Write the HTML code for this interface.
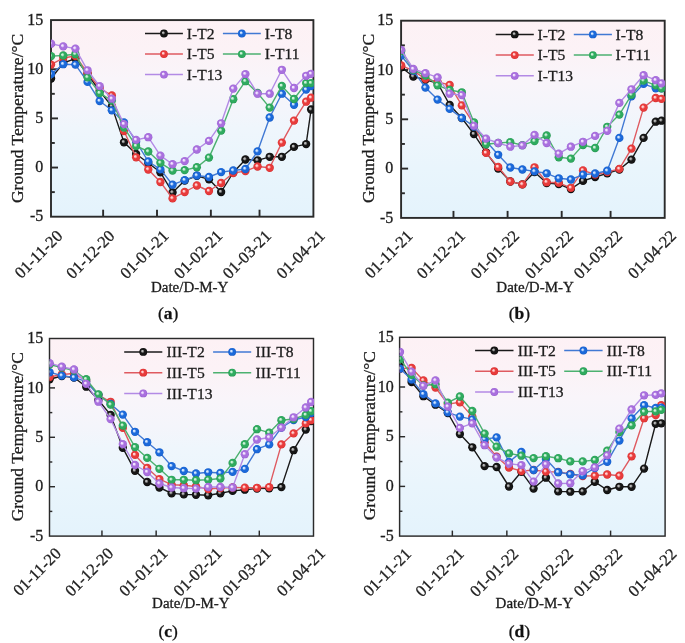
<!DOCTYPE html><html><head><meta charset="utf-8"><style>html,body{margin:0;padding:0;background:#fff;}svg{display:block;will-change:transform;}text{font-family:"Liberation Serif",serif;stroke:#1c1c1c;stroke-width:0.3px;paint-order:stroke;}</style></head><body>
<svg width="685" height="643" viewBox="0 0 685 643">
<defs>
<linearGradient id="bg" x1="0" y1="0" x2="0" y2="1"><stop offset="0" stop-color="#fdf1f5"/><stop offset="0.15" stop-color="#fcf2f6"/><stop offset="0.3" stop-color="#f9f5fa"/><stop offset="0.45" stop-color="#f4f5fb"/><stop offset="0.55" stop-color="#eff6fc"/><stop offset="0.75" stop-color="#e9f5fc"/><stop offset="1" stop-color="#e4f3fc"/></linearGradient>
<radialGradient id="mk" cx="0.5" cy="0.5" r="0.5" fx="0.36" fy="0.36"><stop offset="0" stop-color="#b8b8b8"/><stop offset="0.17" stop-color="#b8b8b8"/><stop offset="0.48" stop-color="#161616"/><stop offset="0.82" stop-color="#161616"/><stop offset="1" stop-color="#050505"/></radialGradient>
<radialGradient id="mr" cx="0.5" cy="0.5" r="0.5" fx="0.36" fy="0.36"><stop offset="0" stop-color="#ffd2d2"/><stop offset="0.17" stop-color="#ffd2d2"/><stop offset="0.48" stop-color="#e83b3b"/><stop offset="0.82" stop-color="#e83b3b"/><stop offset="1" stop-color="#d42a2a"/></radialGradient>
<radialGradient id="mb" cx="0.5" cy="0.5" r="0.5" fx="0.36" fy="0.36"><stop offset="0" stop-color="#d2e6ff"/><stop offset="0.17" stop-color="#d2e6ff"/><stop offset="0.48" stop-color="#1b69da"/><stop offset="0.82" stop-color="#1b69da"/><stop offset="1" stop-color="#1258c4"/></radialGradient>
<radialGradient id="mg" cx="0.5" cy="0.5" r="0.5" fx="0.36" fy="0.36"><stop offset="0" stop-color="#cdf2da"/><stop offset="0.17" stop-color="#cdf2da"/><stop offset="0.48" stop-color="#2fab5f"/><stop offset="0.82" stop-color="#2fab5f"/><stop offset="1" stop-color="#22944f"/></radialGradient>
<radialGradient id="mp" cx="0.5" cy="0.5" r="0.5" fx="0.36" fy="0.36"><stop offset="0" stop-color="#f2e4ff"/><stop offset="0.17" stop-color="#f2e4ff"/><stop offset="0.48" stop-color="#a970de"/><stop offset="0.82" stop-color="#a970de"/><stop offset="1" stop-color="#955bcf"/></radialGradient>
</defs>
<rect width="685" height="643" fill="#fff"/>
<rect x="51" y="20.1" width="262.4" height="196.6" fill="url(#bg)"/>
<clipPath id="cpa"><rect x="51" y="15.1" width="262.9" height="206.6"/></clipPath>
<rect x="51" y="20.1" width="262.4" height="196.6" fill="none" stroke="#2a2a2a" stroke-width="1.9"/>
<text x="43.3" y="19.3" font-size="16" fill="#1c1c1c" text-anchor="end" dominant-baseline="central">15</text>
<line x1="51" y1="44.67" x2="54.8" y2="44.67" stroke="#2a2a2a" stroke-width="1.9"/>
<line x1="51" y1="69.25" x2="58" y2="69.25" stroke="#2a2a2a" stroke-width="1.9"/>
<text x="43.3" y="68.45" font-size="16" fill="#1c1c1c" text-anchor="end" dominant-baseline="central">10</text>
<line x1="51" y1="93.82" x2="54.8" y2="93.82" stroke="#2a2a2a" stroke-width="1.9"/>
<line x1="51" y1="118.4" x2="58" y2="118.4" stroke="#2a2a2a" stroke-width="1.9"/>
<text x="43.3" y="117.6" font-size="16" fill="#1c1c1c" text-anchor="end" dominant-baseline="central">5</text>
<line x1="51" y1="142.97" x2="54.8" y2="142.97" stroke="#2a2a2a" stroke-width="1.9"/>
<line x1="51" y1="167.55" x2="58" y2="167.55" stroke="#2a2a2a" stroke-width="1.9"/>
<text x="43.3" y="166.75" font-size="16" fill="#1c1c1c" text-anchor="end" dominant-baseline="central">0</text>
<line x1="51" y1="192.12" x2="54.8" y2="192.12" stroke="#2a2a2a" stroke-width="1.9"/>
<text x="43.3" y="215.9" font-size="16" fill="#1c1c1c" text-anchor="end" dominant-baseline="central">-5</text>
<text x="0" y="0" transform="translate(63.5 236.9) rotate(-45)" font-size="16.5" fill="#1c1c1c" text-anchor="end">01-11-20</text>
<line x1="103.13" y1="216.7" x2="103.13" y2="209.7" stroke="#2a2a2a" stroke-width="1.9"/>
<text x="0" y="0" transform="translate(115.63 236.9) rotate(-45)" font-size="16.5" fill="#1c1c1c" text-anchor="end">01-12-20</text>
<line x1="157" y1="216.7" x2="157" y2="209.7" stroke="#2a2a2a" stroke-width="1.9"/>
<text x="0" y="0" transform="translate(169.5 236.9) rotate(-45)" font-size="16.5" fill="#1c1c1c" text-anchor="end">01-01-21</text>
<line x1="210.87" y1="216.7" x2="210.87" y2="209.7" stroke="#2a2a2a" stroke-width="1.9"/>
<text x="0" y="0" transform="translate(223.37 236.9) rotate(-45)" font-size="16.5" fill="#1c1c1c" text-anchor="end">01-02-21</text>
<line x1="259.53" y1="216.7" x2="259.53" y2="209.7" stroke="#2a2a2a" stroke-width="1.9"/>
<text x="0" y="0" transform="translate(272.03 236.9) rotate(-45)" font-size="16.5" fill="#1c1c1c" text-anchor="end">01-03-21</text>
<text x="0" y="0" transform="translate(325.9 236.9) rotate(-45)" font-size="16.5" fill="#1c1c1c" text-anchor="end">01-04-21</text>
<g clip-path="url(#cpa)">
<polyline points="51.1,78.5 63.25,63 75.39,58.6 87.53,74 99.68,91 111.82,106.4 123.97,142.3 136.12,154 148.26,163 160.41,172.3 172.55,192.5 184.69,180.6 196.84,175.8 208.98,179.3 221.13,192 233.27,172.5 245.42,159.5 257.56,160.3 269.71,156.8 281.86,156.8 294,146.9 306.14,144.1 311.1,109.5" fill="none" stroke="#1a1a1a" stroke-width="1.4" stroke-linejoin="round"/>
<circle cx="51.1" cy="78.5" r="4.15" fill="url(#mk)"/>
<circle cx="63.25" cy="63" r="4.15" fill="url(#mk)"/>
<circle cx="75.39" cy="58.6" r="4.15" fill="url(#mk)"/>
<circle cx="87.53" cy="74" r="4.15" fill="url(#mk)"/>
<circle cx="99.68" cy="91" r="4.15" fill="url(#mk)"/>
<circle cx="111.82" cy="106.4" r="4.15" fill="url(#mk)"/>
<circle cx="123.97" cy="142.3" r="4.15" fill="url(#mk)"/>
<circle cx="136.12" cy="154" r="4.15" fill="url(#mk)"/>
<circle cx="148.26" cy="163" r="4.15" fill="url(#mk)"/>
<circle cx="160.41" cy="172.3" r="4.15" fill="url(#mk)"/>
<circle cx="172.55" cy="192.5" r="4.15" fill="url(#mk)"/>
<circle cx="184.69" cy="180.6" r="4.15" fill="url(#mk)"/>
<circle cx="196.84" cy="175.8" r="4.15" fill="url(#mk)"/>
<circle cx="208.98" cy="179.3" r="4.15" fill="url(#mk)"/>
<circle cx="221.13" cy="192" r="4.15" fill="url(#mk)"/>
<circle cx="233.27" cy="172.5" r="4.15" fill="url(#mk)"/>
<circle cx="245.42" cy="159.5" r="4.15" fill="url(#mk)"/>
<circle cx="257.56" cy="160.3" r="4.15" fill="url(#mk)"/>
<circle cx="269.71" cy="156.8" r="4.15" fill="url(#mk)"/>
<circle cx="281.86" cy="156.8" r="4.15" fill="url(#mk)"/>
<circle cx="294" cy="146.9" r="4.15" fill="url(#mk)"/>
<circle cx="306.14" cy="144.1" r="4.15" fill="url(#mk)"/>
<circle cx="311.1" cy="109.5" r="4.15" fill="url(#mk)"/>
<polyline points="51.1,64.6 63.25,58 75.39,56 87.53,73 99.68,88 111.82,95.5 123.97,131 136.12,157.3 148.26,169.5 160.41,182 172.55,198.4 184.69,192 196.84,185.5 208.98,191 221.13,183 233.27,173 245.42,171.1 257.56,166.5 269.71,167.8 281.86,142.6 294,120.6 306.14,101.7 311.1,97.7" fill="none" stroke="#df5a60" stroke-width="1.4" stroke-linejoin="round"/>
<circle cx="51.1" cy="64.6" r="4.15" fill="url(#mr)"/>
<circle cx="63.25" cy="58" r="4.15" fill="url(#mr)"/>
<circle cx="75.39" cy="56" r="4.15" fill="url(#mr)"/>
<circle cx="87.53" cy="73" r="4.15" fill="url(#mr)"/>
<circle cx="99.68" cy="88" r="4.15" fill="url(#mr)"/>
<circle cx="111.82" cy="95.5" r="4.15" fill="url(#mr)"/>
<circle cx="123.97" cy="131" r="4.15" fill="url(#mr)"/>
<circle cx="136.12" cy="157.3" r="4.15" fill="url(#mr)"/>
<circle cx="148.26" cy="169.5" r="4.15" fill="url(#mr)"/>
<circle cx="160.41" cy="182" r="4.15" fill="url(#mr)"/>
<circle cx="172.55" cy="198.4" r="4.15" fill="url(#mr)"/>
<circle cx="184.69" cy="192" r="4.15" fill="url(#mr)"/>
<circle cx="196.84" cy="185.5" r="4.15" fill="url(#mr)"/>
<circle cx="208.98" cy="191" r="4.15" fill="url(#mr)"/>
<circle cx="221.13" cy="183" r="4.15" fill="url(#mr)"/>
<circle cx="233.27" cy="173" r="4.15" fill="url(#mr)"/>
<circle cx="245.42" cy="171.1" r="4.15" fill="url(#mr)"/>
<circle cx="257.56" cy="166.5" r="4.15" fill="url(#mr)"/>
<circle cx="269.71" cy="167.8" r="4.15" fill="url(#mr)"/>
<circle cx="281.86" cy="142.6" r="4.15" fill="url(#mr)"/>
<circle cx="294" cy="120.6" r="4.15" fill="url(#mr)"/>
<circle cx="306.14" cy="101.7" r="4.15" fill="url(#mr)"/>
<circle cx="311.1" cy="97.7" r="4.15" fill="url(#mr)"/>
<polyline points="51.1,74.1 63.25,64.2 75.39,64.6 87.53,81.9 99.68,101 111.82,110.3 123.97,122.5 136.12,141.7 148.26,161.5 160.41,169.4 172.55,184.7 184.69,180.1 196.84,175.5 208.98,177 221.13,172.1 233.27,170.5 245.42,169 257.56,151.4 269.71,117.5 281.86,93.7 294,104.8 306.14,89.6 311.1,86.1" fill="none" stroke="#4079d4" stroke-width="1.4" stroke-linejoin="round"/>
<circle cx="51.1" cy="74.1" r="4.15" fill="url(#mb)"/>
<circle cx="63.25" cy="64.2" r="4.15" fill="url(#mb)"/>
<circle cx="75.39" cy="64.6" r="4.15" fill="url(#mb)"/>
<circle cx="87.53" cy="81.9" r="4.15" fill="url(#mb)"/>
<circle cx="99.68" cy="101" r="4.15" fill="url(#mb)"/>
<circle cx="111.82" cy="110.3" r="4.15" fill="url(#mb)"/>
<circle cx="123.97" cy="122.5" r="4.15" fill="url(#mb)"/>
<circle cx="136.12" cy="141.7" r="4.15" fill="url(#mb)"/>
<circle cx="148.26" cy="161.5" r="4.15" fill="url(#mb)"/>
<circle cx="160.41" cy="169.4" r="4.15" fill="url(#mb)"/>
<circle cx="172.55" cy="184.7" r="4.15" fill="url(#mb)"/>
<circle cx="184.69" cy="180.1" r="4.15" fill="url(#mb)"/>
<circle cx="196.84" cy="175.5" r="4.15" fill="url(#mb)"/>
<circle cx="208.98" cy="177" r="4.15" fill="url(#mb)"/>
<circle cx="221.13" cy="172.1" r="4.15" fill="url(#mb)"/>
<circle cx="233.27" cy="170.5" r="4.15" fill="url(#mb)"/>
<circle cx="245.42" cy="169" r="4.15" fill="url(#mb)"/>
<circle cx="257.56" cy="151.4" r="4.15" fill="url(#mb)"/>
<circle cx="269.71" cy="117.5" r="4.15" fill="url(#mb)"/>
<circle cx="281.86" cy="93.7" r="4.15" fill="url(#mb)"/>
<circle cx="294" cy="104.8" r="4.15" fill="url(#mb)"/>
<circle cx="306.14" cy="89.6" r="4.15" fill="url(#mb)"/>
<circle cx="311.1" cy="86.1" r="4.15" fill="url(#mb)"/>
<polyline points="51.1,56.1 63.25,55.5 75.39,54.2 87.53,77.3 99.68,93.1 111.82,100.5 123.97,127.6 136.12,146 148.26,151.5 160.41,162.8 172.55,170.6 184.69,170.1 196.84,167.2 208.98,157.6 221.13,130.6 233.27,99.2 245.42,81.2 257.56,93 269.71,107.6 281.86,85.9 294,99 306.14,83.1 311.1,83.1" fill="none" stroke="#4cb170" stroke-width="1.4" stroke-linejoin="round"/>
<circle cx="51.1" cy="56.1" r="4.15" fill="url(#mg)"/>
<circle cx="63.25" cy="55.5" r="4.15" fill="url(#mg)"/>
<circle cx="75.39" cy="54.2" r="4.15" fill="url(#mg)"/>
<circle cx="87.53" cy="77.3" r="4.15" fill="url(#mg)"/>
<circle cx="99.68" cy="93.1" r="4.15" fill="url(#mg)"/>
<circle cx="111.82" cy="100.5" r="4.15" fill="url(#mg)"/>
<circle cx="123.97" cy="127.6" r="4.15" fill="url(#mg)"/>
<circle cx="136.12" cy="146" r="4.15" fill="url(#mg)"/>
<circle cx="148.26" cy="151.5" r="4.15" fill="url(#mg)"/>
<circle cx="160.41" cy="162.8" r="4.15" fill="url(#mg)"/>
<circle cx="172.55" cy="170.6" r="4.15" fill="url(#mg)"/>
<circle cx="184.69" cy="170.1" r="4.15" fill="url(#mg)"/>
<circle cx="196.84" cy="167.2" r="4.15" fill="url(#mg)"/>
<circle cx="208.98" cy="157.6" r="4.15" fill="url(#mg)"/>
<circle cx="221.13" cy="130.6" r="4.15" fill="url(#mg)"/>
<circle cx="233.27" cy="99.2" r="4.15" fill="url(#mg)"/>
<circle cx="245.42" cy="81.2" r="4.15" fill="url(#mg)"/>
<circle cx="257.56" cy="93" r="4.15" fill="url(#mg)"/>
<circle cx="269.71" cy="107.6" r="4.15" fill="url(#mg)"/>
<circle cx="281.86" cy="85.9" r="4.15" fill="url(#mg)"/>
<circle cx="294" cy="99" r="4.15" fill="url(#mg)"/>
<circle cx="306.14" cy="83.1" r="4.15" fill="url(#mg)"/>
<circle cx="311.1" cy="83.1" r="4.15" fill="url(#mg)"/>
<polyline points="51.1,43.7 63.25,46.4 75.39,48.6 87.53,70.3 99.68,86.1 111.82,98.7 123.97,124.1 136.12,139.9 148.26,137.2 160.41,155.6 172.55,164.2 184.69,161.1 196.84,149.5 208.98,140.9 221.13,123.3 233.27,88.6 245.42,74.1 257.56,93.7 269.71,93.7 281.86,69.8 294,88 306.14,75.8 311.1,73.8" fill="none" stroke="#b38ae5" stroke-width="1.4" stroke-linejoin="round"/>
<circle cx="51.1" cy="43.7" r="4.15" fill="url(#mp)"/>
<circle cx="63.25" cy="46.4" r="4.15" fill="url(#mp)"/>
<circle cx="75.39" cy="48.6" r="4.15" fill="url(#mp)"/>
<circle cx="87.53" cy="70.3" r="4.15" fill="url(#mp)"/>
<circle cx="99.68" cy="86.1" r="4.15" fill="url(#mp)"/>
<circle cx="111.82" cy="98.7" r="4.15" fill="url(#mp)"/>
<circle cx="123.97" cy="124.1" r="4.15" fill="url(#mp)"/>
<circle cx="136.12" cy="139.9" r="4.15" fill="url(#mp)"/>
<circle cx="148.26" cy="137.2" r="4.15" fill="url(#mp)"/>
<circle cx="160.41" cy="155.6" r="4.15" fill="url(#mp)"/>
<circle cx="172.55" cy="164.2" r="4.15" fill="url(#mp)"/>
<circle cx="184.69" cy="161.1" r="4.15" fill="url(#mp)"/>
<circle cx="196.84" cy="149.5" r="4.15" fill="url(#mp)"/>
<circle cx="208.98" cy="140.9" r="4.15" fill="url(#mp)"/>
<circle cx="221.13" cy="123.3" r="4.15" fill="url(#mp)"/>
<circle cx="233.27" cy="88.6" r="4.15" fill="url(#mp)"/>
<circle cx="245.42" cy="74.1" r="4.15" fill="url(#mp)"/>
<circle cx="257.56" cy="93.7" r="4.15" fill="url(#mp)"/>
<circle cx="269.71" cy="93.7" r="4.15" fill="url(#mp)"/>
<circle cx="281.86" cy="69.8" r="4.15" fill="url(#mp)"/>
<circle cx="294" cy="88" r="4.15" fill="url(#mp)"/>
<circle cx="306.14" cy="75.8" r="4.15" fill="url(#mp)"/>
<circle cx="311.1" cy="73.8" r="4.15" fill="url(#mp)"/>
</g>
<line x1="145" y1="33.5" x2="182.9" y2="33.5" stroke="#1a1a1a" stroke-width="1.5"/>
<circle cx="163.95" cy="33.5" r="3.9" fill="url(#mk)"/>
<text x="186.8" y="33.2" font-size="15.6" fill="#1c1c1c" dominant-baseline="central">I-T2</text>
<line x1="222.9" y1="33.5" x2="260.8" y2="33.5" stroke="#4079d4" stroke-width="1.5"/>
<circle cx="241.85" cy="33.5" r="3.9" fill="url(#mb)"/>
<text x="264.7" y="33.2" font-size="15.6" fill="#1c1c1c" dominant-baseline="central">I-T8</text>
<line x1="145" y1="54.05" x2="182.9" y2="54.05" stroke="#df5a60" stroke-width="1.5"/>
<circle cx="163.95" cy="54.05" r="3.9" fill="url(#mr)"/>
<text x="186.8" y="53.75" font-size="15.6" fill="#1c1c1c" dominant-baseline="central">I-T5</text>
<line x1="222.9" y1="54.05" x2="260.8" y2="54.05" stroke="#4cb170" stroke-width="1.5"/>
<circle cx="241.85" cy="54.05" r="3.9" fill="url(#mg)"/>
<text x="264.7" y="53.75" font-size="15.6" fill="#1c1c1c" dominant-baseline="central">I-T11</text>
<line x1="145" y1="74.6" x2="182.9" y2="74.6" stroke="#b38ae5" stroke-width="1.5"/>
<circle cx="163.95" cy="74.6" r="3.9" fill="url(#mp)"/>
<text x="186.8" y="74.3" font-size="15.6" fill="#1c1c1c" dominant-baseline="central">I-T13</text>
<text x="0" y="0" transform="translate(22.8 118.45) rotate(-90)" font-size="17.5" fill="#1c1c1c" text-anchor="middle">Ground Temperature/°C</text>
<text x="189.65" y="291.7" font-size="15" fill="#1c1c1c" text-anchor="middle">Date/D-M-Y</text>
<text x="168.1" y="319.3" font-size="17.5" fill="#111" text-anchor="middle">(<tspan font-weight="bold">a</tspan>)</text>
<rect x="401.1" y="20.7" width="263.6" height="197.2" fill="url(#bg)"/>
<clipPath id="cpb"><rect x="401.1" y="15.7" width="264.1" height="207.2"/></clipPath>
<rect x="401.1" y="20.7" width="263.6" height="197.2" fill="none" stroke="#2a2a2a" stroke-width="1.9"/>
<text x="393.3" y="19.9" font-size="16" fill="#1c1c1c" text-anchor="end" dominant-baseline="central">15</text>
<line x1="401.1" y1="45.35" x2="404.9" y2="45.35" stroke="#2a2a2a" stroke-width="1.9"/>
<line x1="401.1" y1="70" x2="408.1" y2="70" stroke="#2a2a2a" stroke-width="1.9"/>
<text x="393.3" y="69.2" font-size="16" fill="#1c1c1c" text-anchor="end" dominant-baseline="central">10</text>
<line x1="401.1" y1="94.65" x2="404.9" y2="94.65" stroke="#2a2a2a" stroke-width="1.9"/>
<line x1="401.1" y1="119.3" x2="408.1" y2="119.3" stroke="#2a2a2a" stroke-width="1.9"/>
<text x="393.3" y="118.5" font-size="16" fill="#1c1c1c" text-anchor="end" dominant-baseline="central">5</text>
<line x1="401.1" y1="143.95" x2="404.9" y2="143.95" stroke="#2a2a2a" stroke-width="1.9"/>
<line x1="401.1" y1="168.6" x2="408.1" y2="168.6" stroke="#2a2a2a" stroke-width="1.9"/>
<text x="393.3" y="167.8" font-size="16" fill="#1c1c1c" text-anchor="end" dominant-baseline="central">0</text>
<line x1="401.1" y1="193.25" x2="404.9" y2="193.25" stroke="#2a2a2a" stroke-width="1.9"/>
<text x="393.3" y="217.1" font-size="16" fill="#1c1c1c" text-anchor="end" dominant-baseline="central">-5</text>
<text x="0" y="0" transform="translate(413.6 236.9) rotate(-45)" font-size="16.5" fill="#1c1c1c" text-anchor="end">01-11-21</text>
<line x1="453.47" y1="217.9" x2="453.47" y2="210.9" stroke="#2a2a2a" stroke-width="1.9"/>
<text x="0" y="0" transform="translate(465.97 236.9) rotate(-45)" font-size="16.5" fill="#1c1c1c" text-anchor="end">01-12-21</text>
<line x1="507.59" y1="217.9" x2="507.59" y2="210.9" stroke="#2a2a2a" stroke-width="1.9"/>
<text x="0" y="0" transform="translate(520.09 236.9) rotate(-45)" font-size="16.5" fill="#1c1c1c" text-anchor="end">01-01-22</text>
<line x1="561.7" y1="217.9" x2="561.7" y2="210.9" stroke="#2a2a2a" stroke-width="1.9"/>
<text x="0" y="0" transform="translate(574.2 236.9) rotate(-45)" font-size="16.5" fill="#1c1c1c" text-anchor="end">01-02-22</text>
<line x1="610.58" y1="217.9" x2="610.58" y2="210.9" stroke="#2a2a2a" stroke-width="1.9"/>
<text x="0" y="0" transform="translate(623.08 236.9) rotate(-45)" font-size="16.5" fill="#1c1c1c" text-anchor="end">01-03-22</text>
<text x="0" y="0" transform="translate(677.2 236.9) rotate(-45)" font-size="16.5" fill="#1c1c1c" text-anchor="end">01-04-22</text>
<g clip-path="url(#cpb)">
<polyline points="401.2,67.3 413.32,76.5 425.44,79.7 437.56,83 449.68,104.9 461.8,118 473.92,134.1 486.04,152.3 498.16,168.5 510.28,181.5 522.4,184.4 534.52,172 546.64,183 558.76,184.1 570.88,189 583,180.9 595.12,177 607.24,173.3 619.36,169.5 631.48,159.6 643.6,137.9 655.72,121.7 661.5,120.7" fill="none" stroke="#1a1a1a" stroke-width="1.4" stroke-linejoin="round"/>
<circle cx="401.2" cy="67.3" r="4.15" fill="url(#mk)"/>
<circle cx="413.32" cy="76.5" r="4.15" fill="url(#mk)"/>
<circle cx="425.44" cy="79.7" r="4.15" fill="url(#mk)"/>
<circle cx="437.56" cy="83" r="4.15" fill="url(#mk)"/>
<circle cx="449.68" cy="104.9" r="4.15" fill="url(#mk)"/>
<circle cx="461.8" cy="118" r="4.15" fill="url(#mk)"/>
<circle cx="473.92" cy="134.1" r="4.15" fill="url(#mk)"/>
<circle cx="486.04" cy="152.3" r="4.15" fill="url(#mk)"/>
<circle cx="498.16" cy="168.5" r="4.15" fill="url(#mk)"/>
<circle cx="510.28" cy="181.5" r="4.15" fill="url(#mk)"/>
<circle cx="522.4" cy="184.4" r="4.15" fill="url(#mk)"/>
<circle cx="534.52" cy="172" r="4.15" fill="url(#mk)"/>
<circle cx="546.64" cy="183" r="4.15" fill="url(#mk)"/>
<circle cx="558.76" cy="184.1" r="4.15" fill="url(#mk)"/>
<circle cx="570.88" cy="189" r="4.15" fill="url(#mk)"/>
<circle cx="583" cy="180.9" r="4.15" fill="url(#mk)"/>
<circle cx="595.12" cy="177" r="4.15" fill="url(#mk)"/>
<circle cx="607.24" cy="173.3" r="4.15" fill="url(#mk)"/>
<circle cx="619.36" cy="169.5" r="4.15" fill="url(#mk)"/>
<circle cx="631.48" cy="159.6" r="4.15" fill="url(#mk)"/>
<circle cx="643.6" cy="137.9" r="4.15" fill="url(#mk)"/>
<circle cx="655.72" cy="121.7" r="4.15" fill="url(#mk)"/>
<circle cx="661.5" cy="120.7" r="4.15" fill="url(#mk)"/>
<polyline points="401.2,65.4 413.32,70.9 425.44,78.8 437.56,82 449.68,84.9 461.8,105.4 473.92,124 486.04,152.9 498.16,167 510.28,181.5 522.4,184.4 534.52,167.3 546.64,182.2 558.76,182.8 570.88,187.8 583,170.4 595.12,174.5 607.24,172 619.36,168.9 631.48,148.6 643.6,107.6 655.72,98 661.5,98.9" fill="none" stroke="#df5a60" stroke-width="1.4" stroke-linejoin="round"/>
<circle cx="401.2" cy="65.4" r="4.15" fill="url(#mr)"/>
<circle cx="413.32" cy="70.9" r="4.15" fill="url(#mr)"/>
<circle cx="425.44" cy="78.8" r="4.15" fill="url(#mr)"/>
<circle cx="437.56" cy="82" r="4.15" fill="url(#mr)"/>
<circle cx="449.68" cy="84.9" r="4.15" fill="url(#mr)"/>
<circle cx="461.8" cy="105.4" r="4.15" fill="url(#mr)"/>
<circle cx="473.92" cy="124" r="4.15" fill="url(#mr)"/>
<circle cx="486.04" cy="152.9" r="4.15" fill="url(#mr)"/>
<circle cx="498.16" cy="167" r="4.15" fill="url(#mr)"/>
<circle cx="510.28" cy="181.5" r="4.15" fill="url(#mr)"/>
<circle cx="522.4" cy="184.4" r="4.15" fill="url(#mr)"/>
<circle cx="534.52" cy="167.3" r="4.15" fill="url(#mr)"/>
<circle cx="546.64" cy="182.2" r="4.15" fill="url(#mr)"/>
<circle cx="558.76" cy="182.8" r="4.15" fill="url(#mr)"/>
<circle cx="570.88" cy="187.8" r="4.15" fill="url(#mr)"/>
<circle cx="583" cy="170.4" r="4.15" fill="url(#mr)"/>
<circle cx="595.12" cy="174.5" r="4.15" fill="url(#mr)"/>
<circle cx="607.24" cy="172" r="4.15" fill="url(#mr)"/>
<circle cx="619.36" cy="168.9" r="4.15" fill="url(#mr)"/>
<circle cx="631.48" cy="148.6" r="4.15" fill="url(#mr)"/>
<circle cx="643.6" cy="107.6" r="4.15" fill="url(#mr)"/>
<circle cx="655.72" cy="98" r="4.15" fill="url(#mr)"/>
<circle cx="661.5" cy="98.9" r="4.15" fill="url(#mr)"/>
<polyline points="401.2,55.5 413.32,70.9 425.44,87.6 437.56,99.6 449.68,108.9 461.8,117.9 473.92,126.5 486.04,141 498.16,154.8 510.28,167.5 522.4,169.5 534.52,171.4 546.64,173.3 558.76,178.3 570.88,179.5 583,174.7 595.12,173.5 607.24,170.7 619.36,137.9 631.48,96.4 643.6,83.9 655.72,88.3 661.5,88.3" fill="none" stroke="#4079d4" stroke-width="1.4" stroke-linejoin="round"/>
<circle cx="401.2" cy="55.5" r="4.15" fill="url(#mb)"/>
<circle cx="413.32" cy="70.9" r="4.15" fill="url(#mb)"/>
<circle cx="425.44" cy="87.6" r="4.15" fill="url(#mb)"/>
<circle cx="437.56" cy="99.6" r="4.15" fill="url(#mb)"/>
<circle cx="449.68" cy="108.9" r="4.15" fill="url(#mb)"/>
<circle cx="461.8" cy="117.9" r="4.15" fill="url(#mb)"/>
<circle cx="473.92" cy="126.5" r="4.15" fill="url(#mb)"/>
<circle cx="486.04" cy="141" r="4.15" fill="url(#mb)"/>
<circle cx="498.16" cy="154.8" r="4.15" fill="url(#mb)"/>
<circle cx="510.28" cy="167.5" r="4.15" fill="url(#mb)"/>
<circle cx="522.4" cy="169.5" r="4.15" fill="url(#mb)"/>
<circle cx="534.52" cy="171.4" r="4.15" fill="url(#mb)"/>
<circle cx="546.64" cy="173.3" r="4.15" fill="url(#mb)"/>
<circle cx="558.76" cy="178.3" r="4.15" fill="url(#mb)"/>
<circle cx="570.88" cy="179.5" r="4.15" fill="url(#mb)"/>
<circle cx="583" cy="174.7" r="4.15" fill="url(#mb)"/>
<circle cx="595.12" cy="173.5" r="4.15" fill="url(#mb)"/>
<circle cx="607.24" cy="170.7" r="4.15" fill="url(#mb)"/>
<circle cx="619.36" cy="137.9" r="4.15" fill="url(#mb)"/>
<circle cx="631.48" cy="96.4" r="4.15" fill="url(#mb)"/>
<circle cx="643.6" cy="83.9" r="4.15" fill="url(#mb)"/>
<circle cx="655.72" cy="88.3" r="4.15" fill="url(#mb)"/>
<circle cx="661.5" cy="88.3" r="4.15" fill="url(#mb)"/>
<polyline points="401.2,51 413.32,70 425.44,75.5 437.56,85.3 449.68,90 461.8,92.3 473.92,122.3 486.04,144.2 498.16,143 510.28,142.1 522.4,145.2 534.52,141.1 546.64,135.5 558.76,157.3 570.88,158.6 583,145 595.12,148 607.24,126.8 619.36,114.6 631.48,94.8 643.6,80.6 655.72,85.3 661.5,88.3" fill="none" stroke="#4cb170" stroke-width="1.4" stroke-linejoin="round"/>
<circle cx="401.2" cy="51" r="4.15" fill="url(#mg)"/>
<circle cx="413.32" cy="70" r="4.15" fill="url(#mg)"/>
<circle cx="425.44" cy="75.5" r="4.15" fill="url(#mg)"/>
<circle cx="437.56" cy="85.3" r="4.15" fill="url(#mg)"/>
<circle cx="449.68" cy="90" r="4.15" fill="url(#mg)"/>
<circle cx="461.8" cy="92.3" r="4.15" fill="url(#mg)"/>
<circle cx="473.92" cy="122.3" r="4.15" fill="url(#mg)"/>
<circle cx="486.04" cy="144.2" r="4.15" fill="url(#mg)"/>
<circle cx="498.16" cy="143" r="4.15" fill="url(#mg)"/>
<circle cx="510.28" cy="142.1" r="4.15" fill="url(#mg)"/>
<circle cx="522.4" cy="145.2" r="4.15" fill="url(#mg)"/>
<circle cx="534.52" cy="141.1" r="4.15" fill="url(#mg)"/>
<circle cx="546.64" cy="135.5" r="4.15" fill="url(#mg)"/>
<circle cx="558.76" cy="157.3" r="4.15" fill="url(#mg)"/>
<circle cx="570.88" cy="158.6" r="4.15" fill="url(#mg)"/>
<circle cx="583" cy="145" r="4.15" fill="url(#mg)"/>
<circle cx="595.12" cy="148" r="4.15" fill="url(#mg)"/>
<circle cx="607.24" cy="126.8" r="4.15" fill="url(#mg)"/>
<circle cx="619.36" cy="114.6" r="4.15" fill="url(#mg)"/>
<circle cx="631.48" cy="94.8" r="4.15" fill="url(#mg)"/>
<circle cx="643.6" cy="80.6" r="4.15" fill="url(#mg)"/>
<circle cx="655.72" cy="85.3" r="4.15" fill="url(#mg)"/>
<circle cx="661.5" cy="88.3" r="4.15" fill="url(#mg)"/>
<polyline points="401.2,49.9 413.32,69 425.44,73.2 437.56,77.4 449.68,93.7 461.8,95.1 473.92,125.8 486.04,138.6 498.16,143 510.28,146.7 522.4,145.4 534.52,134.9 546.64,143 558.76,153.6 570.88,146.7 583,141.8 595.12,135.9 607.24,130.8 619.36,102.9 631.48,89.3 643.6,75.2 655.72,80.2 661.5,83.3" fill="none" stroke="#b38ae5" stroke-width="1.4" stroke-linejoin="round"/>
<circle cx="401.2" cy="49.9" r="4.15" fill="url(#mp)"/>
<circle cx="413.32" cy="69" r="4.15" fill="url(#mp)"/>
<circle cx="425.44" cy="73.2" r="4.15" fill="url(#mp)"/>
<circle cx="437.56" cy="77.4" r="4.15" fill="url(#mp)"/>
<circle cx="449.68" cy="93.7" r="4.15" fill="url(#mp)"/>
<circle cx="461.8" cy="95.1" r="4.15" fill="url(#mp)"/>
<circle cx="473.92" cy="125.8" r="4.15" fill="url(#mp)"/>
<circle cx="486.04" cy="138.6" r="4.15" fill="url(#mp)"/>
<circle cx="498.16" cy="143" r="4.15" fill="url(#mp)"/>
<circle cx="510.28" cy="146.7" r="4.15" fill="url(#mp)"/>
<circle cx="522.4" cy="145.4" r="4.15" fill="url(#mp)"/>
<circle cx="534.52" cy="134.9" r="4.15" fill="url(#mp)"/>
<circle cx="546.64" cy="143" r="4.15" fill="url(#mp)"/>
<circle cx="558.76" cy="153.6" r="4.15" fill="url(#mp)"/>
<circle cx="570.88" cy="146.7" r="4.15" fill="url(#mp)"/>
<circle cx="583" cy="141.8" r="4.15" fill="url(#mp)"/>
<circle cx="595.12" cy="135.9" r="4.15" fill="url(#mp)"/>
<circle cx="607.24" cy="130.8" r="4.15" fill="url(#mp)"/>
<circle cx="619.36" cy="102.9" r="4.15" fill="url(#mp)"/>
<circle cx="631.48" cy="89.3" r="4.15" fill="url(#mp)"/>
<circle cx="643.6" cy="75.2" r="4.15" fill="url(#mp)"/>
<circle cx="655.72" cy="80.2" r="4.15" fill="url(#mp)"/>
<circle cx="661.5" cy="83.3" r="4.15" fill="url(#mp)"/>
</g>
<line x1="495.7" y1="34.4" x2="533.8" y2="34.4" stroke="#1a1a1a" stroke-width="1.5"/>
<circle cx="514.75" cy="34.4" r="3.9" fill="url(#mk)"/>
<text x="537.5" y="34.1" font-size="15.6" fill="#1c1c1c" dominant-baseline="central">I-T2</text>
<line x1="573.8" y1="34.4" x2="611.9" y2="34.4" stroke="#4079d4" stroke-width="1.5"/>
<circle cx="592.85" cy="34.4" r="3.9" fill="url(#mb)"/>
<text x="615.6" y="34.1" font-size="15.6" fill="#1c1c1c" dominant-baseline="central">I-T8</text>
<line x1="495.7" y1="55.1" x2="533.8" y2="55.1" stroke="#df5a60" stroke-width="1.5"/>
<circle cx="514.75" cy="55.1" r="3.9" fill="url(#mr)"/>
<text x="537.5" y="54.8" font-size="15.6" fill="#1c1c1c" dominant-baseline="central">I-T5</text>
<line x1="573.8" y1="55.1" x2="611.9" y2="55.1" stroke="#4cb170" stroke-width="1.5"/>
<circle cx="592.85" cy="55.1" r="3.9" fill="url(#mg)"/>
<text x="615.6" y="54.8" font-size="15.6" fill="#1c1c1c" dominant-baseline="central">I-T11</text>
<line x1="495.7" y1="75.8" x2="533.8" y2="75.8" stroke="#b38ae5" stroke-width="1.5"/>
<circle cx="514.75" cy="75.8" r="3.9" fill="url(#mp)"/>
<text x="537.5" y="75.5" font-size="15.6" fill="#1c1c1c" dominant-baseline="central">I-T13</text>
<text x="0" y="0" transform="translate(373.8 118.45) rotate(-90)" font-size="17.5" fill="#1c1c1c" text-anchor="middle">Ground Temperature/°C</text>
<text x="535.1" y="291.7" font-size="15" fill="#1c1c1c" text-anchor="middle">Date/D-M-Y</text>
<text x="519.4" y="319.3" font-size="17.5" fill="#111" text-anchor="middle">(<tspan font-weight="bold">b</tspan>)</text>
<rect x="49.5" y="338.5" width="264" height="197.6" fill="url(#bg)"/>
<clipPath id="cpc"><rect x="49.5" y="333.5" width="264.5" height="207.6"/></clipPath>
<rect x="49.5" y="338.5" width="264" height="197.6" fill="none" stroke="#2a2a2a" stroke-width="1.45"/>
<text x="43.3" y="337.7" font-size="16" fill="#1c1c1c" text-anchor="end" dominant-baseline="central">15</text>
<line x1="49.5" y1="363.2" x2="52.3" y2="363.2" stroke="#2a2a2a" stroke-width="1.45"/>
<line x1="49.5" y1="387.9" x2="55" y2="387.9" stroke="#2a2a2a" stroke-width="1.45"/>
<text x="43.3" y="387.1" font-size="16" fill="#1c1c1c" text-anchor="end" dominant-baseline="central">10</text>
<line x1="49.5" y1="412.6" x2="52.3" y2="412.6" stroke="#2a2a2a" stroke-width="1.45"/>
<line x1="49.5" y1="437.3" x2="55" y2="437.3" stroke="#2a2a2a" stroke-width="1.45"/>
<text x="43.3" y="436.5" font-size="16" fill="#1c1c1c" text-anchor="end" dominant-baseline="central">5</text>
<line x1="49.5" y1="462" x2="52.3" y2="462" stroke="#2a2a2a" stroke-width="1.45"/>
<line x1="49.5" y1="486.7" x2="55" y2="486.7" stroke="#2a2a2a" stroke-width="1.45"/>
<text x="43.3" y="485.9" font-size="16" fill="#1c1c1c" text-anchor="end" dominant-baseline="central">0</text>
<line x1="49.5" y1="511.4" x2="52.3" y2="511.4" stroke="#2a2a2a" stroke-width="1.45"/>
<text x="43.3" y="535.3" font-size="16" fill="#1c1c1c" text-anchor="end" dominant-baseline="central">-5</text>
<text x="0" y="0" transform="translate(62 554.5) rotate(-45)" font-size="16.5" fill="#1c1c1c" text-anchor="end">01-11-20</text>
<line x1="101.95" y1="536.1" x2="101.95" y2="530.6" stroke="#2a2a2a" stroke-width="1.45"/>
<text x="0" y="0" transform="translate(114.45 554.5) rotate(-45)" font-size="16.5" fill="#1c1c1c" text-anchor="end">01-12-20</text>
<line x1="156.15" y1="536.1" x2="156.15" y2="530.6" stroke="#2a2a2a" stroke-width="1.45"/>
<text x="0" y="0" transform="translate(168.65 554.5) rotate(-45)" font-size="16.5" fill="#1c1c1c" text-anchor="end">01-01-21</text>
<line x1="210.35" y1="536.1" x2="210.35" y2="530.6" stroke="#2a2a2a" stroke-width="1.45"/>
<text x="0" y="0" transform="translate(222.85 554.5) rotate(-45)" font-size="16.5" fill="#1c1c1c" text-anchor="end">01-02-21</text>
<line x1="259.3" y1="536.1" x2="259.3" y2="530.6" stroke="#2a2a2a" stroke-width="1.45"/>
<text x="0" y="0" transform="translate(271.8 554.5) rotate(-45)" font-size="16.5" fill="#1c1c1c" text-anchor="end">01-03-21</text>
<text x="0" y="0" transform="translate(326 554.5) rotate(-45)" font-size="16.5" fill="#1c1c1c" text-anchor="end">01-04-21</text>
<g clip-path="url(#cpc)">
<polyline points="49.6,379.3 61.8,376 74,377.5 86.2,386.7 98.4,400 110.6,414.9 122.8,447.8 135,470.8 147.2,482 159.4,487.5 171.6,493.4 183.8,494.4 196,494.8 208.2,495.3 220.4,493.3 232.6,490.9 244.8,489.7 257,488.5 269.2,488.3 281.4,487.1 293.6,450.2 305.8,429.6 311.1,421" fill="none" stroke="#1a1a1a" stroke-width="1.4" stroke-linejoin="round"/>
<circle cx="49.6" cy="379.3" r="4.15" fill="url(#mk)"/>
<circle cx="61.8" cy="376" r="4.15" fill="url(#mk)"/>
<circle cx="74" cy="377.5" r="4.15" fill="url(#mk)"/>
<circle cx="86.2" cy="386.7" r="4.15" fill="url(#mk)"/>
<circle cx="98.4" cy="400" r="4.15" fill="url(#mk)"/>
<circle cx="110.6" cy="414.9" r="4.15" fill="url(#mk)"/>
<circle cx="122.8" cy="447.8" r="4.15" fill="url(#mk)"/>
<circle cx="135" cy="470.8" r="4.15" fill="url(#mk)"/>
<circle cx="147.2" cy="482" r="4.15" fill="url(#mk)"/>
<circle cx="159.4" cy="487.5" r="4.15" fill="url(#mk)"/>
<circle cx="171.6" cy="493.4" r="4.15" fill="url(#mk)"/>
<circle cx="183.8" cy="494.4" r="4.15" fill="url(#mk)"/>
<circle cx="196" cy="494.8" r="4.15" fill="url(#mk)"/>
<circle cx="208.2" cy="495.3" r="4.15" fill="url(#mk)"/>
<circle cx="220.4" cy="493.3" r="4.15" fill="url(#mk)"/>
<circle cx="232.6" cy="490.9" r="4.15" fill="url(#mk)"/>
<circle cx="244.8" cy="489.7" r="4.15" fill="url(#mk)"/>
<circle cx="257" cy="488.5" r="4.15" fill="url(#mk)"/>
<circle cx="269.2" cy="488.3" r="4.15" fill="url(#mk)"/>
<circle cx="281.4" cy="487.1" r="4.15" fill="url(#mk)"/>
<circle cx="293.6" cy="450.2" r="4.15" fill="url(#mk)"/>
<circle cx="305.8" cy="429.6" r="4.15" fill="url(#mk)"/>
<circle cx="311.1" cy="421" r="4.15" fill="url(#mk)"/>
<polyline points="49.6,377 61.8,374.5 74,373.5 86.2,381 98.4,395 110.6,401.8 122.8,427.9 135,454.9 147.2,467.9 159.4,479.1 171.6,484.7 183.8,485.3 196,486.5 208.2,489 220.4,488 232.6,487.5 244.8,487.6 257,487.8 269.2,487.1 281.4,444.4 293.6,433.4 305.8,423.4 311.1,420.2" fill="none" stroke="#df5a60" stroke-width="1.4" stroke-linejoin="round"/>
<circle cx="49.6" cy="377" r="4.15" fill="url(#mr)"/>
<circle cx="61.8" cy="374.5" r="4.15" fill="url(#mr)"/>
<circle cx="74" cy="373.5" r="4.15" fill="url(#mr)"/>
<circle cx="86.2" cy="381" r="4.15" fill="url(#mr)"/>
<circle cx="98.4" cy="395" r="4.15" fill="url(#mr)"/>
<circle cx="110.6" cy="401.8" r="4.15" fill="url(#mr)"/>
<circle cx="122.8" cy="427.9" r="4.15" fill="url(#mr)"/>
<circle cx="135" cy="454.9" r="4.15" fill="url(#mr)"/>
<circle cx="147.2" cy="467.9" r="4.15" fill="url(#mr)"/>
<circle cx="159.4" cy="479.1" r="4.15" fill="url(#mr)"/>
<circle cx="171.6" cy="484.7" r="4.15" fill="url(#mr)"/>
<circle cx="183.8" cy="485.3" r="4.15" fill="url(#mr)"/>
<circle cx="196" cy="486.5" r="4.15" fill="url(#mr)"/>
<circle cx="208.2" cy="489" r="4.15" fill="url(#mr)"/>
<circle cx="220.4" cy="488" r="4.15" fill="url(#mr)"/>
<circle cx="232.6" cy="487.5" r="4.15" fill="url(#mr)"/>
<circle cx="244.8" cy="487.6" r="4.15" fill="url(#mr)"/>
<circle cx="257" cy="487.8" r="4.15" fill="url(#mr)"/>
<circle cx="269.2" cy="487.1" r="4.15" fill="url(#mr)"/>
<circle cx="281.4" cy="444.4" r="4.15" fill="url(#mr)"/>
<circle cx="293.6" cy="433.4" r="4.15" fill="url(#mr)"/>
<circle cx="305.8" cy="423.4" r="4.15" fill="url(#mr)"/>
<circle cx="311.1" cy="420.2" r="4.15" fill="url(#mr)"/>
<polyline points="49.6,372.3 61.8,375.6 74,377.4 86.2,381.7 98.4,395 110.6,404 122.8,414.6 135,431.8 147.2,442.2 159.4,452.3 171.6,466.1 183.8,471 196,473.5 208.2,472.3 220.4,473 232.6,471.9 244.8,468.9 257,449.2 269.2,444.4 281.4,427.6 293.6,420 305.8,417 311.1,413" fill="none" stroke="#4079d4" stroke-width="1.4" stroke-linejoin="round"/>
<circle cx="49.6" cy="372.3" r="4.15" fill="url(#mb)"/>
<circle cx="61.8" cy="375.6" r="4.15" fill="url(#mb)"/>
<circle cx="74" cy="377.4" r="4.15" fill="url(#mb)"/>
<circle cx="86.2" cy="381.7" r="4.15" fill="url(#mb)"/>
<circle cx="98.4" cy="395" r="4.15" fill="url(#mb)"/>
<circle cx="110.6" cy="404" r="4.15" fill="url(#mb)"/>
<circle cx="122.8" cy="414.6" r="4.15" fill="url(#mb)"/>
<circle cx="135" cy="431.8" r="4.15" fill="url(#mb)"/>
<circle cx="147.2" cy="442.2" r="4.15" fill="url(#mb)"/>
<circle cx="159.4" cy="452.3" r="4.15" fill="url(#mb)"/>
<circle cx="171.6" cy="466.1" r="4.15" fill="url(#mb)"/>
<circle cx="183.8" cy="471" r="4.15" fill="url(#mb)"/>
<circle cx="196" cy="473.5" r="4.15" fill="url(#mb)"/>
<circle cx="208.2" cy="472.3" r="4.15" fill="url(#mb)"/>
<circle cx="220.4" cy="473" r="4.15" fill="url(#mb)"/>
<circle cx="232.6" cy="471.9" r="4.15" fill="url(#mb)"/>
<circle cx="244.8" cy="468.9" r="4.15" fill="url(#mb)"/>
<circle cx="257" cy="449.2" r="4.15" fill="url(#mb)"/>
<circle cx="269.2" cy="444.4" r="4.15" fill="url(#mb)"/>
<circle cx="281.4" cy="427.6" r="4.15" fill="url(#mb)"/>
<circle cx="293.6" cy="420" r="4.15" fill="url(#mb)"/>
<circle cx="305.8" cy="417" r="4.15" fill="url(#mb)"/>
<circle cx="311.1" cy="413" r="4.15" fill="url(#mb)"/>
<polyline points="49.6,364.5 61.8,367.5 74,370.5 86.2,379.2 98.4,394.3 110.6,404.6 122.8,425.6 135,447.1 147.2,457.9 159.4,468.8 171.6,479.8 183.8,479.8 196,480.2 208.2,479.7 220.4,478.5 232.6,462.9 244.8,444.2 257,429.2 269.2,432.7 281.4,420.2 293.6,419 305.8,414.9 311.1,411.2" fill="none" stroke="#4cb170" stroke-width="1.4" stroke-linejoin="round"/>
<circle cx="49.6" cy="364.5" r="4.15" fill="url(#mg)"/>
<circle cx="61.8" cy="367.5" r="4.15" fill="url(#mg)"/>
<circle cx="74" cy="370.5" r="4.15" fill="url(#mg)"/>
<circle cx="86.2" cy="379.2" r="4.15" fill="url(#mg)"/>
<circle cx="98.4" cy="394.3" r="4.15" fill="url(#mg)"/>
<circle cx="110.6" cy="404.6" r="4.15" fill="url(#mg)"/>
<circle cx="122.8" cy="425.6" r="4.15" fill="url(#mg)"/>
<circle cx="135" cy="447.1" r="4.15" fill="url(#mg)"/>
<circle cx="147.2" cy="457.9" r="4.15" fill="url(#mg)"/>
<circle cx="159.4" cy="468.8" r="4.15" fill="url(#mg)"/>
<circle cx="171.6" cy="479.8" r="4.15" fill="url(#mg)"/>
<circle cx="183.8" cy="479.8" r="4.15" fill="url(#mg)"/>
<circle cx="196" cy="480.2" r="4.15" fill="url(#mg)"/>
<circle cx="208.2" cy="479.7" r="4.15" fill="url(#mg)"/>
<circle cx="220.4" cy="478.5" r="4.15" fill="url(#mg)"/>
<circle cx="232.6" cy="462.9" r="4.15" fill="url(#mg)"/>
<circle cx="244.8" cy="444.2" r="4.15" fill="url(#mg)"/>
<circle cx="257" cy="429.2" r="4.15" fill="url(#mg)"/>
<circle cx="269.2" cy="432.7" r="4.15" fill="url(#mg)"/>
<circle cx="281.4" cy="420.2" r="4.15" fill="url(#mg)"/>
<circle cx="293.6" cy="419" r="4.15" fill="url(#mg)"/>
<circle cx="305.8" cy="414.9" r="4.15" fill="url(#mg)"/>
<circle cx="311.1" cy="411.2" r="4.15" fill="url(#mg)"/>
<polyline points="49.6,363.2 61.8,366.7 74,369.5 86.2,383.8 98.4,401.7 110.6,419.1 122.8,444.1 135,465 147.2,472 159.4,483.5 171.6,487.5 183.8,488.2 196,488.6 208.2,487 220.4,487 232.6,487.5 244.8,454.2 257,439.5 269.2,437.5 281.4,427.5 293.6,417.3 305.8,407.5 311.1,402" fill="none" stroke="#b38ae5" stroke-width="1.4" stroke-linejoin="round"/>
<circle cx="49.6" cy="363.2" r="4.15" fill="url(#mp)"/>
<circle cx="61.8" cy="366.7" r="4.15" fill="url(#mp)"/>
<circle cx="74" cy="369.5" r="4.15" fill="url(#mp)"/>
<circle cx="86.2" cy="383.8" r="4.15" fill="url(#mp)"/>
<circle cx="98.4" cy="401.7" r="4.15" fill="url(#mp)"/>
<circle cx="110.6" cy="419.1" r="4.15" fill="url(#mp)"/>
<circle cx="122.8" cy="444.1" r="4.15" fill="url(#mp)"/>
<circle cx="135" cy="465" r="4.15" fill="url(#mp)"/>
<circle cx="147.2" cy="472" r="4.15" fill="url(#mp)"/>
<circle cx="159.4" cy="483.5" r="4.15" fill="url(#mp)"/>
<circle cx="171.6" cy="487.5" r="4.15" fill="url(#mp)"/>
<circle cx="183.8" cy="488.2" r="4.15" fill="url(#mp)"/>
<circle cx="196" cy="488.6" r="4.15" fill="url(#mp)"/>
<circle cx="208.2" cy="487" r="4.15" fill="url(#mp)"/>
<circle cx="220.4" cy="487" r="4.15" fill="url(#mp)"/>
<circle cx="232.6" cy="487.5" r="4.15" fill="url(#mp)"/>
<circle cx="244.8" cy="454.2" r="4.15" fill="url(#mp)"/>
<circle cx="257" cy="439.5" r="4.15" fill="url(#mp)"/>
<circle cx="269.2" cy="437.5" r="4.15" fill="url(#mp)"/>
<circle cx="281.4" cy="427.5" r="4.15" fill="url(#mp)"/>
<circle cx="293.6" cy="417.3" r="4.15" fill="url(#mp)"/>
<circle cx="305.8" cy="407.5" r="4.15" fill="url(#mp)"/>
<circle cx="311.1" cy="402" r="4.15" fill="url(#mp)"/>
</g>
<line x1="124.2" y1="351.9" x2="162.3" y2="351.9" stroke="#1a1a1a" stroke-width="1.5"/>
<circle cx="143.25" cy="351.9" r="3.9" fill="url(#mk)"/>
<text x="166.6" y="351.6" font-size="15.6" fill="#1c1c1c" dominant-baseline="central">III-T2</text>
<line x1="213.1" y1="351.9" x2="251.2" y2="351.9" stroke="#4079d4" stroke-width="1.5"/>
<circle cx="232.15" cy="351.9" r="3.9" fill="url(#mb)"/>
<text x="255.5" y="351.6" font-size="15.6" fill="#1c1c1c" dominant-baseline="central">III-T8</text>
<line x1="124.2" y1="372.65" x2="162.3" y2="372.65" stroke="#df5a60" stroke-width="1.5"/>
<circle cx="143.25" cy="372.65" r="3.9" fill="url(#mr)"/>
<text x="166.6" y="372.35" font-size="15.6" fill="#1c1c1c" dominant-baseline="central">III-T5</text>
<line x1="213.1" y1="372.65" x2="251.2" y2="372.65" stroke="#4cb170" stroke-width="1.5"/>
<circle cx="232.15" cy="372.65" r="3.9" fill="url(#mg)"/>
<text x="255.5" y="372.35" font-size="15.6" fill="#1c1c1c" dominant-baseline="central">III-T11</text>
<line x1="124.2" y1="393.4" x2="162.3" y2="393.4" stroke="#b38ae5" stroke-width="1.5"/>
<circle cx="143.25" cy="393.4" r="3.9" fill="url(#mp)"/>
<text x="166.6" y="393.1" font-size="15.6" fill="#1c1c1c" dominant-baseline="central">III-T13</text>
<text x="0" y="0" transform="translate(22.9 436.75) rotate(-90)" font-size="17.5" fill="#1c1c1c" text-anchor="middle">Ground Temperature/°C</text>
<text x="190.85" y="608" font-size="15" fill="#1c1c1c" text-anchor="middle">Date/D-M-Y</text>
<text x="168.1" y="636.5" font-size="17.5" fill="#111" text-anchor="middle">(<tspan font-weight="bold">c</tspan>)</text>
<rect x="399.6" y="337.3" width="265.5" height="198.8" fill="url(#bg)"/>
<clipPath id="cpd"><rect x="399.6" y="332.3" width="266" height="208.8"/></clipPath>
<rect x="399.6" y="337.3" width="265.5" height="198.8" fill="none" stroke="#2a2a2a" stroke-width="1.45"/>
<text x="393.7" y="336.5" font-size="16" fill="#1c1c1c" text-anchor="end" dominant-baseline="central">15</text>
<line x1="399.6" y1="362.15" x2="402.4" y2="362.15" stroke="#2a2a2a" stroke-width="1.45"/>
<line x1="399.6" y1="387" x2="405.1" y2="387" stroke="#2a2a2a" stroke-width="1.45"/>
<text x="393.7" y="386.2" font-size="16" fill="#1c1c1c" text-anchor="end" dominant-baseline="central">10</text>
<line x1="399.6" y1="411.85" x2="402.4" y2="411.85" stroke="#2a2a2a" stroke-width="1.45"/>
<line x1="399.6" y1="436.7" x2="405.1" y2="436.7" stroke="#2a2a2a" stroke-width="1.45"/>
<text x="393.7" y="435.9" font-size="16" fill="#1c1c1c" text-anchor="end" dominant-baseline="central">5</text>
<line x1="399.6" y1="461.55" x2="402.4" y2="461.55" stroke="#2a2a2a" stroke-width="1.45"/>
<line x1="399.6" y1="486.4" x2="405.1" y2="486.4" stroke="#2a2a2a" stroke-width="1.45"/>
<text x="393.7" y="485.6" font-size="16" fill="#1c1c1c" text-anchor="end" dominant-baseline="central">0</text>
<line x1="399.6" y1="511.25" x2="402.4" y2="511.25" stroke="#2a2a2a" stroke-width="1.45"/>
<text x="393.7" y="535.3" font-size="16" fill="#1c1c1c" text-anchor="end" dominant-baseline="central">-5</text>
<text x="0" y="0" transform="translate(412.1 555) rotate(-45)" font-size="16.5" fill="#1c1c1c" text-anchor="end">01-11-21</text>
<line x1="452.35" y1="536.1" x2="452.35" y2="530.6" stroke="#2a2a2a" stroke-width="1.45"/>
<text x="0" y="0" transform="translate(464.85 555) rotate(-45)" font-size="16.5" fill="#1c1c1c" text-anchor="end">01-12-21</text>
<line x1="506.85" y1="536.1" x2="506.85" y2="530.6" stroke="#2a2a2a" stroke-width="1.45"/>
<text x="0" y="0" transform="translate(519.35 555) rotate(-45)" font-size="16.5" fill="#1c1c1c" text-anchor="end">01-01-22</text>
<line x1="561.36" y1="536.1" x2="561.36" y2="530.6" stroke="#2a2a2a" stroke-width="1.45"/>
<text x="0" y="0" transform="translate(573.86 555) rotate(-45)" font-size="16.5" fill="#1c1c1c" text-anchor="end">01-02-22</text>
<line x1="610.59" y1="536.1" x2="610.59" y2="530.6" stroke="#2a2a2a" stroke-width="1.45"/>
<text x="0" y="0" transform="translate(623.09 555) rotate(-45)" font-size="16.5" fill="#1c1c1c" text-anchor="end">01-03-22</text>
<text x="0" y="0" transform="translate(677.6 555) rotate(-45)" font-size="16.5" fill="#1c1c1c" text-anchor="end">01-04-22</text>
<g clip-path="url(#cpd)">
<polyline points="400,363.5 411.6,382 423.4,396.2 435.5,404.7 447.8,413 459.9,434.1 472.3,447.3 484.6,466.1 496.6,467 509,486.5 521.4,471.8 533.6,488.6 545.9,477.7 558.2,491.4 570.3,491.7 582.7,491.4 594.8,481.8 607.2,490 619.4,486.8 631.6,486.8 644.1,468.6 655.7,423.8 661.3,423.3" fill="none" stroke="#1a1a1a" stroke-width="1.4" stroke-linejoin="round"/>
<circle cx="400" cy="363.5" r="4.15" fill="url(#mk)"/>
<circle cx="411.6" cy="382" r="4.15" fill="url(#mk)"/>
<circle cx="423.4" cy="396.2" r="4.15" fill="url(#mk)"/>
<circle cx="435.5" cy="404.7" r="4.15" fill="url(#mk)"/>
<circle cx="447.8" cy="413" r="4.15" fill="url(#mk)"/>
<circle cx="459.9" cy="434.1" r="4.15" fill="url(#mk)"/>
<circle cx="472.3" cy="447.3" r="4.15" fill="url(#mk)"/>
<circle cx="484.6" cy="466.1" r="4.15" fill="url(#mk)"/>
<circle cx="496.6" cy="467" r="4.15" fill="url(#mk)"/>
<circle cx="509" cy="486.5" r="4.15" fill="url(#mk)"/>
<circle cx="521.4" cy="471.8" r="4.15" fill="url(#mk)"/>
<circle cx="533.6" cy="488.6" r="4.15" fill="url(#mk)"/>
<circle cx="545.9" cy="477.7" r="4.15" fill="url(#mk)"/>
<circle cx="558.2" cy="491.4" r="4.15" fill="url(#mk)"/>
<circle cx="570.3" cy="491.7" r="4.15" fill="url(#mk)"/>
<circle cx="582.7" cy="491.4" r="4.15" fill="url(#mk)"/>
<circle cx="594.8" cy="481.8" r="4.15" fill="url(#mk)"/>
<circle cx="607.2" cy="490" r="4.15" fill="url(#mk)"/>
<circle cx="619.4" cy="486.8" r="4.15" fill="url(#mk)"/>
<circle cx="631.6" cy="486.8" r="4.15" fill="url(#mk)"/>
<circle cx="644.1" cy="468.6" r="4.15" fill="url(#mk)"/>
<circle cx="655.7" cy="423.8" r="4.15" fill="url(#mk)"/>
<circle cx="661.3" cy="423.3" r="4.15" fill="url(#mk)"/>
<polyline points="400,368.8 411.6,367.9 423.4,380.4 435.5,387.6 447.8,404 459.9,402.4 472.3,416.6 484.6,442.2 496.6,456.6 509,467.5 521.4,471.1 533.6,470 545.9,471.6 558.2,472 570.3,474 582.7,476 594.8,475.7 607.2,474.5 619.4,475.7 631.6,456.3 644.1,418.2 655.7,415.1 661.3,405.2" fill="none" stroke="#df5a60" stroke-width="1.4" stroke-linejoin="round"/>
<circle cx="400" cy="368.8" r="4.15" fill="url(#mr)"/>
<circle cx="411.6" cy="367.9" r="4.15" fill="url(#mr)"/>
<circle cx="423.4" cy="380.4" r="4.15" fill="url(#mr)"/>
<circle cx="435.5" cy="387.6" r="4.15" fill="url(#mr)"/>
<circle cx="447.8" cy="404" r="4.15" fill="url(#mr)"/>
<circle cx="459.9" cy="402.4" r="4.15" fill="url(#mr)"/>
<circle cx="472.3" cy="416.6" r="4.15" fill="url(#mr)"/>
<circle cx="484.6" cy="442.2" r="4.15" fill="url(#mr)"/>
<circle cx="496.6" cy="456.6" r="4.15" fill="url(#mr)"/>
<circle cx="509" cy="467.5" r="4.15" fill="url(#mr)"/>
<circle cx="521.4" cy="471.1" r="4.15" fill="url(#mr)"/>
<circle cx="533.6" cy="470" r="4.15" fill="url(#mr)"/>
<circle cx="545.9" cy="471.6" r="4.15" fill="url(#mr)"/>
<circle cx="558.2" cy="472" r="4.15" fill="url(#mr)"/>
<circle cx="570.3" cy="474" r="4.15" fill="url(#mr)"/>
<circle cx="582.7" cy="476" r="4.15" fill="url(#mr)"/>
<circle cx="594.8" cy="475.7" r="4.15" fill="url(#mr)"/>
<circle cx="607.2" cy="474.5" r="4.15" fill="url(#mr)"/>
<circle cx="619.4" cy="475.7" r="4.15" fill="url(#mr)"/>
<circle cx="631.6" cy="456.3" r="4.15" fill="url(#mr)"/>
<circle cx="644.1" cy="418.2" r="4.15" fill="url(#mr)"/>
<circle cx="655.7" cy="415.1" r="4.15" fill="url(#mr)"/>
<circle cx="661.3" cy="405.2" r="4.15" fill="url(#mr)"/>
<polyline points="400,368.7 411.6,379.5 423.4,394.1 435.5,403.4 447.8,412.4 459.9,416.6 472.3,419.4 484.6,439.2 496.6,437.4 509,462 521.4,451.9 533.6,470.1 545.9,459 558.2,472.2 570.3,474.3 582.7,475.4 594.8,468 607.2,461.8 619.4,440.6 631.6,418.4 644.1,405.2 655.7,408 661.3,407.6" fill="none" stroke="#4079d4" stroke-width="1.4" stroke-linejoin="round"/>
<circle cx="400" cy="368.7" r="4.15" fill="url(#mb)"/>
<circle cx="411.6" cy="379.5" r="4.15" fill="url(#mb)"/>
<circle cx="423.4" cy="394.1" r="4.15" fill="url(#mb)"/>
<circle cx="435.5" cy="403.4" r="4.15" fill="url(#mb)"/>
<circle cx="447.8" cy="412.4" r="4.15" fill="url(#mb)"/>
<circle cx="459.9" cy="416.6" r="4.15" fill="url(#mb)"/>
<circle cx="472.3" cy="419.4" r="4.15" fill="url(#mb)"/>
<circle cx="484.6" cy="439.2" r="4.15" fill="url(#mb)"/>
<circle cx="496.6" cy="437.4" r="4.15" fill="url(#mb)"/>
<circle cx="509" cy="462" r="4.15" fill="url(#mb)"/>
<circle cx="521.4" cy="451.9" r="4.15" fill="url(#mb)"/>
<circle cx="533.6" cy="470.1" r="4.15" fill="url(#mb)"/>
<circle cx="545.9" cy="459" r="4.15" fill="url(#mb)"/>
<circle cx="558.2" cy="472.2" r="4.15" fill="url(#mb)"/>
<circle cx="570.3" cy="474.3" r="4.15" fill="url(#mb)"/>
<circle cx="582.7" cy="475.4" r="4.15" fill="url(#mb)"/>
<circle cx="594.8" cy="468" r="4.15" fill="url(#mb)"/>
<circle cx="607.2" cy="461.8" r="4.15" fill="url(#mb)"/>
<circle cx="619.4" cy="440.6" r="4.15" fill="url(#mb)"/>
<circle cx="631.6" cy="418.4" r="4.15" fill="url(#mb)"/>
<circle cx="644.1" cy="405.2" r="4.15" fill="url(#mb)"/>
<circle cx="655.7" cy="408" r="4.15" fill="url(#mb)"/>
<circle cx="661.3" cy="407.6" r="4.15" fill="url(#mb)"/>
<polyline points="400,359 411.6,374.9 423.4,385.5 435.5,384.2 447.8,402.6 459.9,396.5 472.3,411 484.6,433.6 496.6,446.7 509,453.4 521.4,455.7 533.6,458.1 545.9,456.2 558.2,458.2 570.3,461.4 582.7,461.4 594.8,460 607.2,450.7 619.4,432.1 631.6,425.3 644.1,411.7 655.7,411.3 661.3,409.8" fill="none" stroke="#4cb170" stroke-width="1.4" stroke-linejoin="round"/>
<circle cx="400" cy="359" r="4.15" fill="url(#mg)"/>
<circle cx="411.6" cy="374.9" r="4.15" fill="url(#mg)"/>
<circle cx="423.4" cy="385.5" r="4.15" fill="url(#mg)"/>
<circle cx="435.5" cy="384.2" r="4.15" fill="url(#mg)"/>
<circle cx="447.8" cy="402.6" r="4.15" fill="url(#mg)"/>
<circle cx="459.9" cy="396.5" r="4.15" fill="url(#mg)"/>
<circle cx="472.3" cy="411" r="4.15" fill="url(#mg)"/>
<circle cx="484.6" cy="433.6" r="4.15" fill="url(#mg)"/>
<circle cx="496.6" cy="446.7" r="4.15" fill="url(#mg)"/>
<circle cx="509" cy="453.4" r="4.15" fill="url(#mg)"/>
<circle cx="521.4" cy="455.7" r="4.15" fill="url(#mg)"/>
<circle cx="533.6" cy="458.1" r="4.15" fill="url(#mg)"/>
<circle cx="545.9" cy="456.2" r="4.15" fill="url(#mg)"/>
<circle cx="558.2" cy="458.2" r="4.15" fill="url(#mg)"/>
<circle cx="570.3" cy="461.4" r="4.15" fill="url(#mg)"/>
<circle cx="582.7" cy="461.4" r="4.15" fill="url(#mg)"/>
<circle cx="594.8" cy="460" r="4.15" fill="url(#mg)"/>
<circle cx="607.2" cy="450.7" r="4.15" fill="url(#mg)"/>
<circle cx="619.4" cy="432.1" r="4.15" fill="url(#mg)"/>
<circle cx="631.6" cy="425.3" r="4.15" fill="url(#mg)"/>
<circle cx="644.1" cy="411.7" r="4.15" fill="url(#mg)"/>
<circle cx="655.7" cy="411.3" r="4.15" fill="url(#mg)"/>
<circle cx="661.3" cy="409.8" r="4.15" fill="url(#mg)"/>
<polyline points="400,352 411.6,371.6 423.4,385.8 435.5,380.4 447.8,406.6 459.9,427.9 472.3,423.3 484.6,445.2 496.6,457.5 509,463.7 521.4,465.1 533.6,481.6 545.9,464.3 558.2,483.5 570.3,483.2 582.7,471.2 594.8,467.3 607.2,455.4 619.4,428.6 631.6,409.5 644.1,395.3 655.7,394.9 661.3,393.4" fill="none" stroke="#b38ae5" stroke-width="1.4" stroke-linejoin="round"/>
<circle cx="400" cy="352" r="4.15" fill="url(#mp)"/>
<circle cx="411.6" cy="371.6" r="4.15" fill="url(#mp)"/>
<circle cx="423.4" cy="385.8" r="4.15" fill="url(#mp)"/>
<circle cx="435.5" cy="380.4" r="4.15" fill="url(#mp)"/>
<circle cx="447.8" cy="406.6" r="4.15" fill="url(#mp)"/>
<circle cx="459.9" cy="427.9" r="4.15" fill="url(#mp)"/>
<circle cx="472.3" cy="423.3" r="4.15" fill="url(#mp)"/>
<circle cx="484.6" cy="445.2" r="4.15" fill="url(#mp)"/>
<circle cx="496.6" cy="457.5" r="4.15" fill="url(#mp)"/>
<circle cx="509" cy="463.7" r="4.15" fill="url(#mp)"/>
<circle cx="521.4" cy="465.1" r="4.15" fill="url(#mp)"/>
<circle cx="533.6" cy="481.6" r="4.15" fill="url(#mp)"/>
<circle cx="545.9" cy="464.3" r="4.15" fill="url(#mp)"/>
<circle cx="558.2" cy="483.5" r="4.15" fill="url(#mp)"/>
<circle cx="570.3" cy="483.2" r="4.15" fill="url(#mp)"/>
<circle cx="582.7" cy="471.2" r="4.15" fill="url(#mp)"/>
<circle cx="594.8" cy="467.3" r="4.15" fill="url(#mp)"/>
<circle cx="607.2" cy="455.4" r="4.15" fill="url(#mp)"/>
<circle cx="619.4" cy="428.6" r="4.15" fill="url(#mp)"/>
<circle cx="631.6" cy="409.5" r="4.15" fill="url(#mp)"/>
<circle cx="644.1" cy="395.3" r="4.15" fill="url(#mp)"/>
<circle cx="655.7" cy="394.9" r="4.15" fill="url(#mp)"/>
<circle cx="661.3" cy="393.4" r="4.15" fill="url(#mp)"/>
</g>
<line x1="475.1" y1="350.5" x2="513.5" y2="350.5" stroke="#1a1a1a" stroke-width="1.5"/>
<circle cx="494.3" cy="350.5" r="3.9" fill="url(#mk)"/>
<text x="517.7" y="350.2" font-size="15.6" fill="#1c1c1c" dominant-baseline="central">III-T2</text>
<line x1="564.2" y1="350.5" x2="602.6" y2="350.5" stroke="#4079d4" stroke-width="1.5"/>
<circle cx="583.4" cy="350.5" r="3.9" fill="url(#mb)"/>
<text x="606.8" y="350.2" font-size="15.6" fill="#1c1c1c" dominant-baseline="central">III-T8</text>
<line x1="475.1" y1="371.25" x2="513.5" y2="371.25" stroke="#df5a60" stroke-width="1.5"/>
<circle cx="494.3" cy="371.25" r="3.9" fill="url(#mr)"/>
<text x="517.7" y="370.95" font-size="15.6" fill="#1c1c1c" dominant-baseline="central">III-T5</text>
<line x1="564.2" y1="371.25" x2="602.6" y2="371.25" stroke="#4cb170" stroke-width="1.5"/>
<circle cx="583.4" cy="371.25" r="3.9" fill="url(#mg)"/>
<text x="606.8" y="370.95" font-size="15.6" fill="#1c1c1c" dominant-baseline="central">III-T11</text>
<line x1="475.1" y1="392" x2="513.5" y2="392" stroke="#b38ae5" stroke-width="1.5"/>
<circle cx="494.3" cy="392" r="3.9" fill="url(#mp)"/>
<text x="517.7" y="391.7" font-size="15.6" fill="#1c1c1c" dominant-baseline="central">III-T13</text>
<text x="0" y="0" transform="translate(374.8 435.75) rotate(-90)" font-size="17.5" fill="#1c1c1c" text-anchor="middle">Ground Temperature/°C</text>
<text x="534.35" y="608" font-size="15" fill="#1c1c1c" text-anchor="middle">Date/D-M-Y</text>
<text x="519.4" y="636.5" font-size="17.5" fill="#111" text-anchor="middle">(<tspan font-weight="bold">d</tspan>)</text>
</svg></body></html>
